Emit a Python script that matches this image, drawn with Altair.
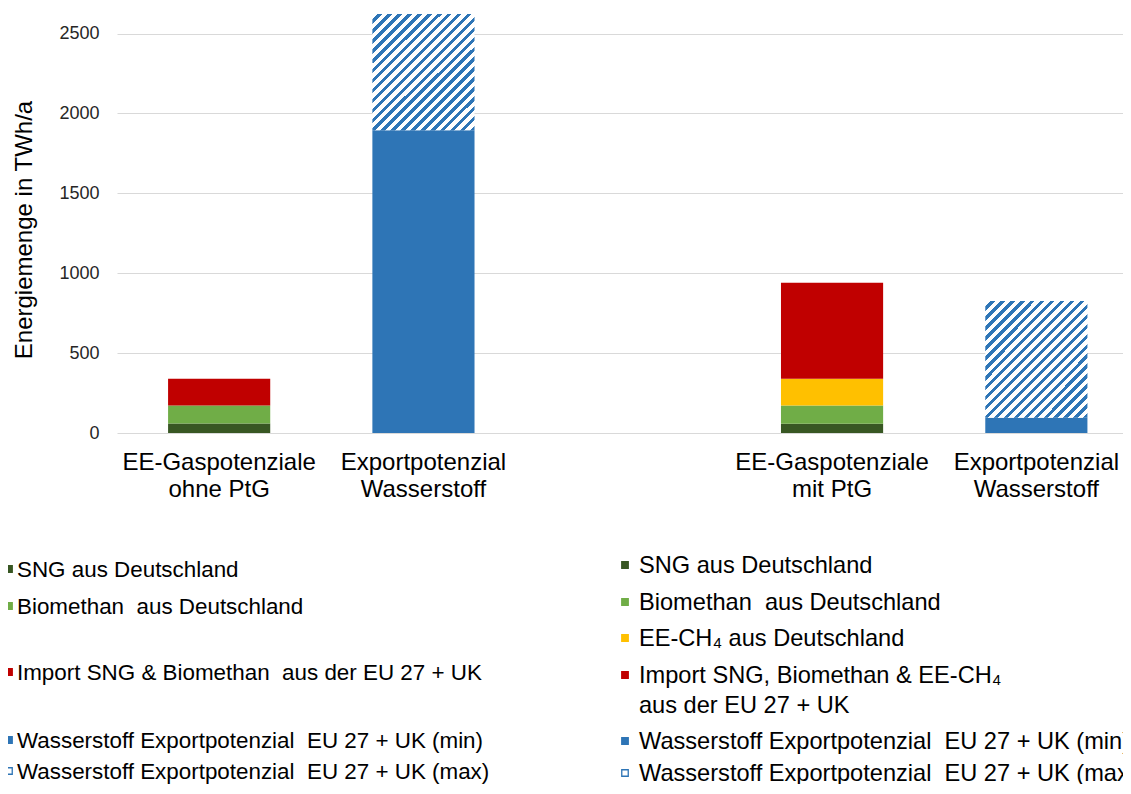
import json
import math
import altair as alt
import pandas as pd

# ---------------- data ----------------
slot_ids = ["s1", "s2", "s3", "s4", "s5"]
slot_labels = [
    ["EE-Gaspotenziale", "ohne PtG"],
    ["Exportpotenzial", "Wasserstoff"],
    [""],
    ["EE-Gaspotenziale", "mit PtG"],
    ["Exportpotenzial", "Wasserstoff"],
]

series_names = [
    "SNG aus Deutschland",
    "Biomethan aus Deutschland",
    "EE-CH₄ aus Deutschland",
    "Import aus der EU 27 + UK",
    "Wasserstoff Exportpotenzial EU 27 + UK (min)",
    "Wasserstoff Exportpotenzial EU 27 + UK (max)",
]
series_colors = ["#385723", "#70ad47", "#ffc000", "#c00000", "#2e75b6", "#2e75b6"]
series_hatched = [False, False, False, False, False, True]

sng = [60, 0, 0, 58, 0]
biomethan = [112, 0, 0, 114, 0]
ee_ch4 = [0, 0, 0, 168, 0]
import_eu = [168, 0, 0, 601, 0]
h2_min = [0, 1895, 0, 0, 95]
h2_max_extra = [0, 727, 0, 0, 731]
series_values = [sng, biomethan, ee_ch4, import_eu, h2_min, h2_max_extra]

y_ticks = [0, 500, 1000, 1500, 2000, 2500]
y_title = "Energiemenge in TWh/a"

NB = "\u00a0"
legend_left_labels = [
    "SNG aus Deutschland",
    f"Biomethan {NB}aus Deutschland",
    f"Import SNG & Biomethan {NB}aus der EU 27 + UK",
    f"Wasserstoff Exportpotenzial {NB}EU 27 + UK (min)",
    f"Wasserstoff Exportpotenzial {NB}EU 27 + UK (max)",
]
legend_left_series = [0, 1, 3, 4, 5]
legend_right_labels = [
    "SNG aus Deutschland",
    f"Biomethan {NB}aus Deutschland",
    "EE-CH₄ aus Deutschland",
    "Import SNG, Biomethan & EE-CH₄",
    "aus der EU 27 + UK",
    f"Wasserstoff Exportpotenzial {NB}EU 27 + UK (min)",
    f"Wasserstoff Exportpotenzial {NB}EU 27 + UK (max)",
]
legend_right_series = [0, 1, 2, 3, -1, 4, 5]

# ---------------- layout ----------------
FONT = "Liberation Sans"
TXT = "#262626"
GRID = "#d9d9d9"
W, H = 1006, 425
X_RANGE = 1021.5                 # band range runs past the clipped right edge
Y_MAX = 2660
PAD_L, PAD_T, PAD_R, PAD_B = 109, 0, 0, 351
ORIGIN_X, ORIGIN_Y = 8 + PAD_L, 8 + PAD_T

LEFT_ROWS = [569, 606, 672, 740, 771]          # page y of rows
RIGHT_ROWS = [565, 602, 638, 675, 705, 741, 773]
LEFT_SQ_X, LEFT_TX_X = 9, 17                    # page x
RIGHT_SQ_X, RIGHT_TX_X = 625, 639
LEFT_FS, RIGHT_FS = 22.4, 23.6

# ---------------- bar table ----------------
rows = []
for si, (name, vals) in enumerate(zip(series_names, series_values)):
    for slot, v in zip(slot_ids, vals):
        if v > 0:
            rows.append({"slot": slot, "series": name, "order": si,
                         "value": v, "hatched": series_hatched[si]})
bars_df = pd.DataFrame(rows)

label_expr = "''"
for sid, lab in reversed(list(zip(slot_ids, slot_labels))):
    label_expr = f"datum.value == '{sid}' ? {json.dumps(lab)} : ({label_expr})"

# hatch built as a striped linear gradient (45° stripes)
step = X_RANGE / len(slot_ids)
bw = step * 0.5
ppu = H / Y_MAX
hatch_vals = [v for v in h2_max_extra if v > 0]
hh = sum(hatch_vals) / len(hatch_vals) * ppu
c = (bw + hh) / (bw * bw + hh * hh)
gx2, gy2 = c * bw, c * hh
n_stripes = max(1, round((bw + hh) / math.sqrt(2) / 7.07))
blue = series_colors[5]
stops = []
for i in range(n_stripes):
    o0 = i / n_stripes
    o1 = (i + 0.55) / n_stripes
    o2 = (i + 1) / n_stripes
    stops += [alt.GradientStop(offset=o0, color="#ffffff"),
              alt.GradientStop(offset=o1, color="#ffffff"),
              alt.GradientStop(offset=o1, color=blue),
              alt.GradientStop(offset=o2, color=blue)]
hatch_fill = alt.LinearGradient(gradient="linear", stops=stops, x1=0, y1=0, x2=gx2, y2=gy2)

bars = alt.Chart(bars_df).transform_stack(
    stack="value", groupby=["slot"], as_=["y0", "y1"],
    sort=[alt.SortField("order", order="ascending")],
).mark_bar(strokeWidth=0).encode(
    x=alt.X("slot:N",
            scale=alt.Scale(domain=slot_ids, range=[0, X_RANGE],
                            paddingInner=0.5, paddingOuter=0.25),
            sort=slot_ids, title=None,
            axis=alt.Axis(labelExpr=label_expr, labelAngle=0, domain=False, ticks=False,
                          labelFont=FONT, labelFontSize=24, labelColor="#000000",
                          labelLimit=400, labelPadding=17, labelLineHeight=27.5,
                          labelBaseline="top")),
    y=alt.Y("y0:Q", scale=alt.Scale(domain=[0, Y_MAX], nice=False), title=y_title,
            axis=alt.Axis(values=y_ticks, format="d", grid=True, gridColor=GRID,
                          gridWidth=1.2, domain=False, ticks=False, labelFont=FONT,
                          labelFontSize=18, labelColor=TXT, labelPadding=18,
                          titleFont=FONT, titleFontSize=24, titleFontWeight="normal",
                          titleColor="#000000", titleAngle=270, titleAlign="center",
                          titleBaseline="middle", titleX=24 - ORIGIN_X,
                          titleY=229.5 - ORIGIN_Y)),
    y2="y1:Q",
    fill=alt.condition("datum.hatched", alt.value(hatch_fill),
                       alt.Fill("series:N",
                                scale=alt.Scale(domain=series_names, range=series_colors),
                                legend=None)),
)

# ---------------- legend table ----------------
leg = []
for lab, si, py in zip(legend_left_labels, legend_left_series, LEFT_ROWS):
    leg.append({"label": lab, "sx": LEFT_SQ_X, "tx": LEFT_TX_X, "py": py, "si": si, "fs": LEFT_FS})
for lab, si, py in zip(legend_right_labels, legend_right_series, RIGHT_ROWS):
    leg.append({"label": lab, "sx": RIGHT_SQ_X, "tx": RIGHT_TX_X, "py": py, "si": si, "fs": RIGHT_FS})
for r in leg:
    r["sx"] -= ORIGIN_X
    r["tx"] -= ORIGIN_X
    r["sy"] = r["py"] - ORIGIN_Y
    r["ty"] = r["py"] - ORIGIN_Y + 1
    si = r["si"]
    if si >= 0:
        r["stroke"] = series_colors[si]
        r["fill"] = "#ffffff" if series_hatched[si] else series_colors[si]
    else:
        r["stroke"] = "transparent"
        r["fill"] = "transparent"
leg_df = pd.DataFrame(leg)

leg_sq = alt.Chart(leg_df).transform_filter("datum.si >= 0").mark_point(
    shape="square", filled=True, size=42, strokeWidth=1.3, opacity=1).encode(
    x=alt.X("sx:Q", scale=None, axis=None),
    y=alt.Y("sy:Q", scale=None, axis=None),
    fill=alt.Fill("fill:N", scale=None),
    stroke=alt.Stroke("stroke:N", scale=None),
)
leg_tx = alt.Chart(leg_df).mark_text(align="left", baseline="middle", font=FONT,
                                     color="#000000").encode(
    x=alt.X("tx:Q", scale=None, axis=None),
    y=alt.Y("ty:Q", scale=None, axis=None),
    text="label:N",
    size=alt.Size("fs:Q", scale=None),
)

chart = alt.layer(bars, leg_sq, leg_tx).resolve_scale(
    x="independent", y="independent", fill="independent", stroke="independent"
).properties(
    width=W, height=H, background="#ffffff",
    autosize=alt.AutoSizeParams(type="none"),
    padding={"left": PAD_L, "top": PAD_T, "right": PAD_R, "bottom": PAD_B},
).configure_view(strokeWidth=0)

chart.save("out.html", embed_options={"renderer": "svg", "actions": False})
